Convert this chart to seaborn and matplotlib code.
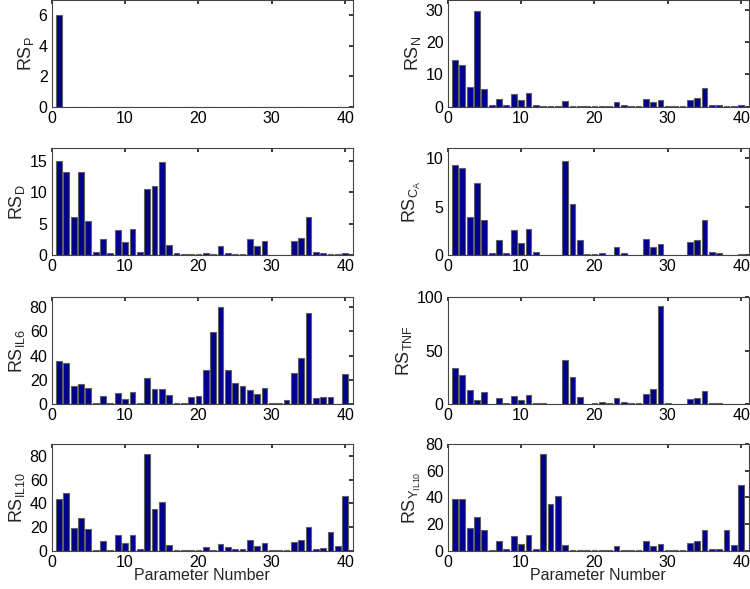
import numpy as np
import pandas as pd
import matplotlib
matplotlib.use("Agg")
import matplotlib.pyplot as plt
import seaborn as sns

# parameter indices
params = list(range(1, 41))

rs_p = [6.0] + [0.0] * 39

rs_n = [14.5, 12.9, 6.0, 29.7, 5.4, 0.4, 2.5, 0.4, 3.8, 1.9,
        4.1, 0.4, 0.1, 0.1, 0.1, 1.6, 0.2, 0.2, 0.2, 0.2,
        0.3, 0.2, 1.4, 0.4, 0.1, 0.1, 2.5, 1.3, 2.1, 0.05,
        0.05, 0.05, 2.2, 2.6, 5.8, 0.4, 0.4, 0.1, 0.1, 0.4]

rs_d = [15.0, 13.2, 6.0, 13.3, 5.5, 0.5, 2.5, 0.4, 4.0, 2.0,
        4.2, 0.5, 10.6, 11.0, 14.8, 1.6, 0.3, 0.2, 0.2, 0.2,
        0.4, 0.1, 1.5, 0.4, 0.1, 0.1, 2.6, 1.4, 2.2, 0.05,
        0.05, 0.05, 2.3, 2.7, 6.1, 0.5, 0.4, 0.1, 0.1, 0.3]

rs_ca = [9.3, 9.0, 3.9, 7.4, 3.6, 0.2, 1.6, 0.25, 2.55, 1.2,
         2.7, 0.3, 0.05, 0.05, 0.05, 9.7, 5.3, 1.6, 0.1, 0.15,
         0.25, 0.05, 0.8, 0.25, 0.05, 0.05, 1.65, 0.8, 1.15, 0.02,
         0.02, 0.02, 1.35, 1.6, 3.6, 0.3, 0.25, 0.05, 0.05, 0.1]

rs_il6 = [35.5, 33.8, 15.3, 16.7, 13.6, 0.5, 6.3, 1.0, 9.4, 4.4,
          10.3, 1.0, 21.2, 12.8, 12.5, 7.2, 1.0, 1.0, 6.1, 6.6,
          27.9, 59.6, 80.4, 27.7, 17.3, 14.7, 11.9, 8.5, 13.3, 0.5,
          1.0, 3.5, 26.0, 38.3, 75.3, 4.6, 5.5, 5.8, 0.3, 24.8]

rs_tnf = [34.0, 27.4, 13.4, 3.5, 11.1, 0.3, 5.4, 1.0, 7.6, 3.5,
          8.3, 1.0, 1.0, 0.3, 0.3, 41.0, 25.8, 6.7, 0.5, 1.0,
          1.5, 1.2, 5.7, 1.5, 1.0, 1.0, 9.5, 13.7, 91.7, 0.8,
          0.2, 0.2, 4.8, 5.4, 12.4, 1.0, 1.0, 0.3, 0.3, 0.5]

rs_il10 = [43.5, 48.6, 18.9, 27.7, 18.6, 1.0, 7.9, 1.0, 13.0, 6.2,
           13.6, 1.2, 81.4, 35.6, 41.0, 4.8, 0.5, 0.5, 1.0, 0.8,
           3.4, 1.0, 5.9, 3.4, 1.2, 1.2, 8.8, 4.2, 6.5, 0.3,
           0.3, 0.8, 7.1, 9.3, 19.8, 1.8, 2.0, 15.8, 4.0, 46.6]

rs_yil10 = [38.8, 38.8, 16.8, 25.0, 15.3, 0.8, 7.0, 1.0, 10.8, 5.3,
            11.5, 1.0, 72.3, 34.8, 41.0, 4.0, 0.5, 0.5, 0.5, 0.5,
            0.8, 0.2, 3.8, 0.8, 0.2, 0.2, 7.3, 3.8, 5.3, 0.2,
            0.2, 0.2, 6.0, 7.0, 15.8, 1.0, 1.0, 15.8, 4.0, 49.0]

ylabels = [r'RS$_P$', r'RS$_N$', r'RS$_D$', r'RS$_{C_A}$',
           r'RS$_{IL6}$', r'RS$_{TNF}$', r'RS$_{IL10}$', r'RS$_{Y_{IL10}}$']
series = [rs_p, rs_n, rs_d, rs_ca, rs_il6, rs_tnf, rs_il10, rs_yil10]
ylims = [7, 33, 17, 11, 88, 100, 90, 80]
yticks = [[0, 2, 4, 6], [0, 10, 20, 30], [0, 5, 10, 15], [0, 5, 10],
          [0, 20, 40, 60, 80], [0, 50, 100], [0, 20, 40, 60, 80],
          [0, 20, 40, 60, 80]]

sns.set_theme(style="white")
plt.rcParams['font.family'] = ['Liberation Sans', 'DejaVu Sans']
plt.rcParams['mathtext.default'] = 'regular'

fig = plt.figure(figsize=(7.5, 5.89), dpi=100)

lefts = [0.069, 0.597]
bottoms = [0.819, 0.567, 0.314, 0.065]
w, h = 0.401, 0.181

for i, (vals, lab) in enumerate(zip(series, ylabels)):
    row, col = divmod(i, 2)
    ax = fig.add_axes([lefts[col], bottoms[row], w, h])
    df = pd.DataFrame({'param': params, 'rs': vals})
    sns.barplot(data=df, x='param', y='rs', native_scale=True, ax=ax,
                color='#00008c', saturation=1, edgecolor='#606060',
                linewidth=0.8, width=0.8, errorbar=None)
    ax.set_xlim(0, 41)
    ax.set_ylim(0, ylims[i])
    ax.set_xticks([0, 10, 20, 30, 40])
    ax.set_yticks(yticks[i])
    ax.tick_params(direction='in', length=3, top=True, right=True,
                   labelsize=11.5, colors='#222222', labelcolor='black', pad=3)
    for s in ax.spines.values():
        s.set_color('#444444')
        s.set_linewidth(0.8)
    ax.set_ylabel(lab, fontsize=13, labelpad=2)
    if row == 3:
        ax.set_xlabel('Parameter Number', fontsize=11.5, labelpad=-1)
    else:
        ax.set_xlabel('')

fig.savefig('out.png', dpi=100)
